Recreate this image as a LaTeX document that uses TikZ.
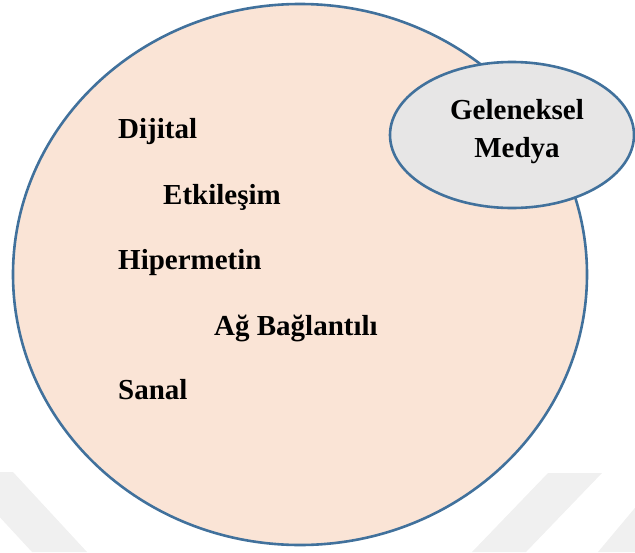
\documentclass[tikz,border=0pt]{standalone}
\usepackage{fontspec}
\setmainfont{Liberation Serif}
\usetikzlibrary{shapes.geometric}
\definecolor{rim}{RGB}{65,113,156}
\definecolor{peach}{RGB}{250,228,214}
\definecolor{lightgrey}{RGB}{231,230,230}
\definecolor{wm}{RGB}{240,240,240}
\tikzset{
  outerset/.style={ellipse, draw=rim, fill=peach, line width=2.6pt,
    inner sep=0pt, minimum width=574pt, minimum height=541pt},
  innerset/.style={ellipse, draw=rim, fill=lightgrey, line width=2.6pt,
    inner sep=0pt, minimum width=244pt, minimum height=146pt},
  term/.style={anchor=base west, inner sep=0pt,
    font=\fontsize{29}{36}\selectfont\bfseries},
  title/.style={anchor=base, inner sep=0pt,
    font=\fontsize{29}{36}\selectfont\bfseries},
  band/.style={fill=wm, draw=none}
}
\begin{document}
\begin{tikzpicture}[x=1pt, y=-1pt]
  \useasboundingbox (0,0) rectangle (635,552);
  \begin{scope}
    \clip (0,0) rectangle (635,552);
    % faint background stripes
    \fill[band] (-42,472) -- (13,472) -- (87,552) -- (32,552) -- cycle;
    \fill[band] (548,473) -- (602,473) -- (526,552) -- (472,552) -- cycle;
    \fill[band] (660,478) -- (700,478) -- (640,552) -- (598,552) -- cycle;
  \end{scope}
  % the two sets
  \node[outerset] (outer) at (300,274.5) {};
  \node[innerset] (inner) at (512,135) {};
  % set members
  \node[term] (dijital) at (118,138) {Dijital};
  \node[term] (etki) at (163,204) {Etkileşim};
  \node[term] (hiper) at (118,269) {Hipermetin};
  \node[term] (ag) at (214,335) {Ağ Bağlantılı};
  \node[term] (sanal) at (118,399) {Sanal};
  \node[title] (gel) at (517,119) {Geleneksel};
  \node[title] (med) at (517,157) {Medya};
\end{tikzpicture}
\end{document}
